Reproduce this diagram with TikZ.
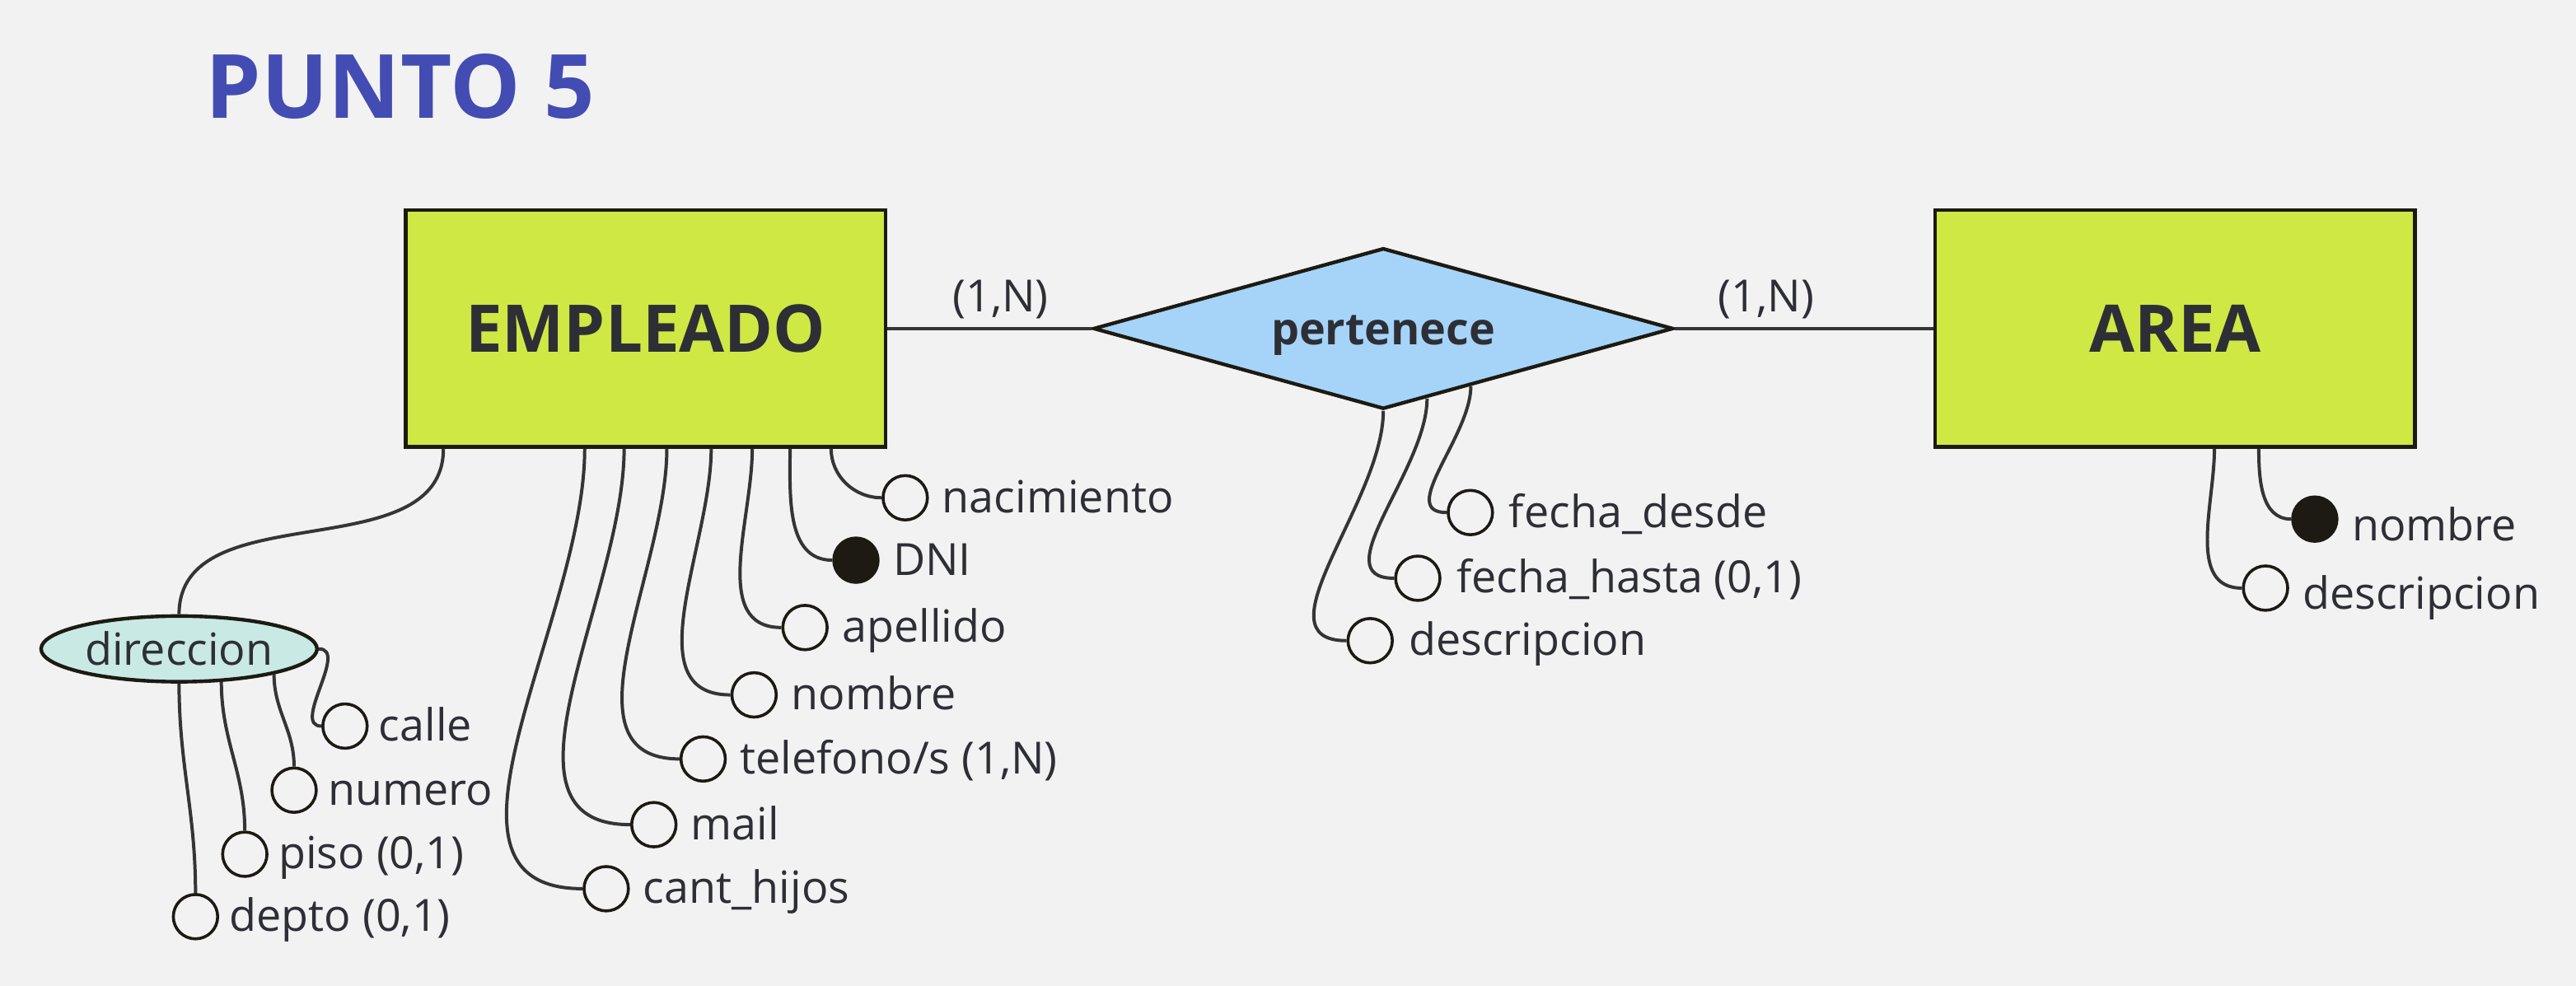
\documentclass[tikz,border=0pt]{standalone}
\usepackage{fontspec}
\setmainfont{Open Sans}
\usetikzlibrary{shapes.geometric,calc}
\definecolor{bg}{HTML}{F2F2F2}
\definecolor{entfill}{HTML}{CFE844}
\definecolor{relfill}{HTML}{A6D4F8}
\definecolor{compfill}{HTML}{C9E9E4}
\definecolor{txt}{HTML}{2E2F36}
\definecolor{edgecol}{HTML}{1C1A12}
\definecolor{conncol}{HTML}{353537}
\definecolor{titleblue}{HTML}{434CB2}
\begin{document}
\begin{tikzpicture}[x=1pt,y=1pt,
  entity/.style={draw=edgecol,line width=2.2pt,fill=entfill,minimum width=292pt,minimum height=144pt,inner sep=0pt,font=\fontsize{40}{48}\selectfont\bfseries,text=txt},
  relbox/.style={diamond,draw=edgecol,line width=2.2pt,fill=relfill,minimum width=353pt,minimum height=98pt,inner sep=0pt,aspect=3.6,font=\fontsize{27}{32}\selectfont\bfseries,text=txt,text height=20pt,text depth=0pt},
  compbox/.style={ellipse,draw=edgecol,line width=2.2pt,fill=compfill,minimum width=168pt,minimum height=40pt,inner sep=0pt,font=\fontsize{27}{32}\selectfont,text=txt,text height=20pt,text depth=0pt},
  attr/.style={circle,draw=edgecol,line width=1.8pt,fill=bg,minimum size=27pt,inner sep=0pt},
  keyattr/.style={attr,fill=edgecol},
  lbl/.style={anchor=base west,inner sep=0pt,font=\fontsize{27}{32}\selectfont,text=txt},
  link/.style={draw=conncol,line width=2pt},
]
\fill[bg] (0,0) rectangle (1568,-600);
\useasboundingbox (0,0) rectangle (1568,-600);

% title
\node[anchor=base west,inner sep=0pt,font=\fontsize{54}{60}\selectfont\bfseries,text=titleblue] (title) at (125,-72) {PUNTO 5};

% main shapes
\node[entity] (emp) at (393,-200) {EMPLEADO};
\node[entity] (area) at (1324,-200) {AREA};
\node[relbox] (rel) at (842,-200) {pertenece};
\node[compbox] (dir) at (109,-395) {direccion};

\draw[link] (emp.east) -- (rel.west);
\draw[link] (rel.east) -- (area.west);
\node[lbl,anchor=base] (card1) at (609,-190) {(1,N)};
\node[lbl,anchor=base] (card2) at (1075,-190) {(1,N)};

% EMPLEADO attributes
\node[attr] (a1) at (551,-303) {};
\node[keyattr] (a2) at (521,-341) {};
\node[attr] (a3) at (490,-382) {};
\node[attr] (a4) at (459,-423) {};
\node[attr] (a5) at (428,-462) {};
\node[attr] (a6) at (398,-502) {};
\node[attr] (a7) at (369,-541) {};
\node[lbl] (t1) at ([xshift=8pt,yshift=-9pt]a1.east) {nacimiento};
\node[lbl] (t2) at ([xshift=8pt,yshift=-9pt]a2.east) {DNI};
\node[lbl] (t3) at ([xshift=8pt,yshift=-9pt]a3.east) {apellido};
\node[lbl] (t4) at ([xshift=8pt,yshift=-9pt]a4.east) {nombre};
\node[lbl] (t5) at ([xshift=8pt,yshift=-9pt]a5.east) {telefono/s (1,N)};
\node[lbl] (t6) at ([xshift=8pt,yshift=-9pt]a6.east) {mail};
\node[lbl] (t7) at ([xshift=8pt,yshift=-9pt]a7.east) {cant\_hijos};
\draw[link] ($(emp.south west)+(260,0)$) to[out=-90,in=180] (a1.west);
\draw[link] ($(emp.south west)+(235,0)$) to[out=-90,in=180] (a2.west);
\draw[link] ($(emp.south west)+(212,0)$) to[out=-90,in=180] (a3.west);
\draw[link] ($(emp.south west)+(187,0)$) to[out=-90,in=180] (a4.west);
\draw[link] ($(emp.south west)+(160,0)$) to[out=-90,in=180] (a5.west);
\draw[link] ($(emp.south west)+(134,0)$) to[out=-90,in=180] (a6.west);
\draw[link] ($(emp.south west)+(110,0)$) to[out=-90,in=180] (a7.west);
\draw[link] ($(emp.south west)+(24,0)$) to[out=-90,in=90] (dir.north);

% direccion components
\node[attr] (d1) at (210,-442) {};
\node[attr] (d2) at (179,-481) {};
\node[attr] (d3) at (149,-520) {};
\node[attr] (d4) at (119,-558) {};
\node[lbl] (u1) at ([xshift=6pt,yshift=-9pt]d1.east) {calle};
\node[lbl] (u2) at ([xshift=6pt,yshift=-9pt]d2.east) {numero};
\node[lbl] (u3) at ([xshift=6pt,yshift=-9pt]d3.east) {piso (0,1)};
\node[lbl] (u4) at ([xshift=6pt,yshift=-9pt]d4.east) {depto (0,1)};
\draw[link] (dir.east) to[out=0,in=180] (d1.west);
\draw[link] (dir.-15) to[out=-90,in=90] (d2.north);
\draw[link] (dir.-38) to[out=-90,in=90] (d3.north);
\draw[link] (dir.south) to[out=-90,in=90] (d4.north);

% relationship attributes
\node[attr] (r1) at (895,-312) {};
\node[attr] (r2) at (863,-352) {};
\node[attr] (r3) at (834,-390) {};
\node[lbl] (v1) at ([xshift=9pt,yshift=-9pt]r1.east) {fecha\_desde};
\node[lbl] (v2) at ([xshift=9pt,yshift=-9pt]r2.east) {fecha\_hasta (0,1)};
\node[lbl] (v3) at ([xshift=9pt,yshift=-9pt]r3.east) {descripcion};
\draw[link] ($(rel.south)!0.3!(rel.east)$) to[out=-90,in=180] (r1.west);
\draw[link] ($(rel.south)!0.15!(rel.east)$) to[out=-90,in=180] (r2.west);
\draw[link] (rel.south) to[out=-90,in=180] (r3.west);

% AREA attributes
\node[keyattr] (b1) at (1409,-316) {};
\node[attr] (b2) at (1379,-358) {};
\node[lbl] (w1) at ([xshift=8pt,yshift=-13pt]b1.east) {nombre};
\node[lbl] (w2) at ([xshift=8pt,yshift=-13pt]b2.east) {descripcion};
\draw[link] ($(area.south west)+(198,0)$) to[out=-90,in=180] (b1.west);
\draw[link] ($(area.south west)+(171,0)$) to[out=-90,in=180] (b2.west);
\end{tikzpicture}
\end{document}
